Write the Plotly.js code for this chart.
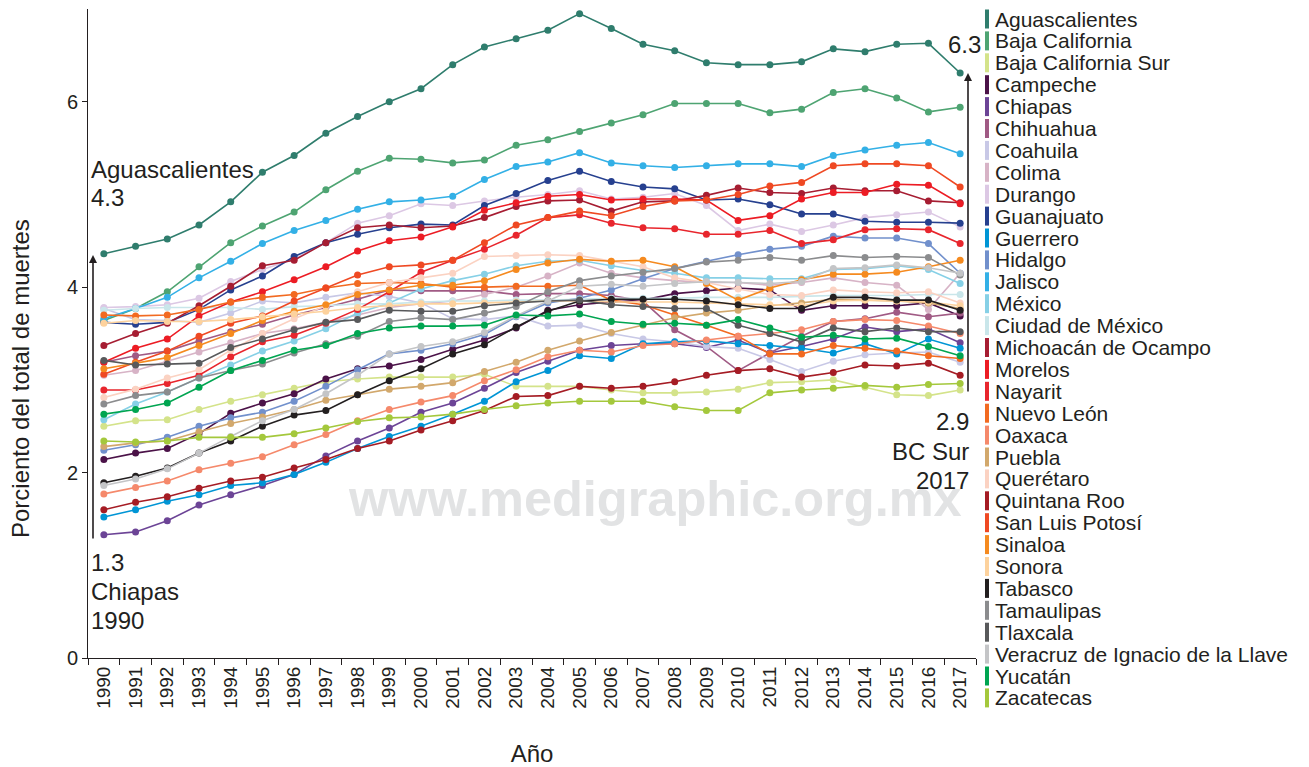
<!DOCTYPE html>
<html>
<head>
<meta charset="utf-8">
<script src="https://cdn.plot.ly/plotly-3.0.1.min.js"></script>
<style>html,body{margin:0;padding:0;background:#fff;}#chart{width:1309px;height:767px;}</style>
</head>
<body>
<div id="chart"></div>
<script>
const years = ["1990","1991","1992","1993","1994","1995","1996","1997","1998","1999","2000","2001","2002","2003","2004","2005","2006","2007","2008","2009","2010","2011","2012","2013","2014","2015","2016","2017"];

const aguascalientes = [4.36,4.44,4.52,4.67,4.92,5.24,5.42,5.66,5.84,6.00,6.14,6.40,6.59,6.68,6.77,6.95,6.79,6.62,6.55,6.42,6.40,6.40,6.43,6.57,6.54,6.62,6.63,6.31];
const bajaCalifornia = [3.64,3.77,3.95,4.22,4.48,4.66,4.81,5.05,5.25,5.39,5.38,5.34,5.37,5.53,5.59,5.68,5.77,5.86,5.98,5.98,5.98,5.88,5.92,6.10,6.14,6.04,5.89,5.94];
const bajaCaliforniaSur = [2.50,2.56,2.57,2.68,2.77,2.84,2.91,2.98,3.01,3.03,3.03,3.03,3.06,2.93,2.93,2.93,2.89,2.86,2.86,2.87,2.90,2.97,2.98,3.00,2.92,2.84,2.83,2.89];
const campeche = [2.14,2.21,2.26,2.42,2.64,2.75,2.85,3.01,3.12,3.15,3.22,3.33,3.43,3.56,3.75,3.81,3.84,3.86,3.93,3.96,3.99,3.97,3.75,3.80,3.80,3.80,3.83,3.69];
const chiapas = [1.33,1.36,1.48,1.65,1.76,1.86,1.98,2.18,2.34,2.48,2.65,2.75,2.91,3.08,3.20,3.32,3.37,3.39,3.39,3.35,3.43,3.29,3.36,3.44,3.57,3.52,3.55,3.40];
const chihuahua = [3.19,3.26,3.31,3.42,3.52,3.60,3.70,3.78,3.87,3.97,3.96,3.96,3.96,3.92,3.93,3.93,3.91,3.85,3.54,3.36,3.10,3.29,3.47,3.63,3.66,3.73,3.68,3.72];
const coahuila = [3.77,3.65,3.64,3.62,3.72,3.85,3.83,3.89,3.94,3.90,3.83,3.66,3.65,3.69,3.58,3.59,3.50,3.44,3.41,3.36,3.34,3.22,3.09,3.20,3.27,3.29,3.30,3.19];
const colima = [3.05,3.10,3.20,3.30,3.40,3.50,3.55,3.62,3.70,3.78,3.82,3.85,3.92,4.00,4.12,4.26,4.15,4.10,4.07,4.05,4.05,4.02,4.05,4.10,4.05,4.02,3.76,4.15];
const durango = [3.78,3.79,3.81,3.88,4.06,4.19,4.30,4.48,4.69,4.77,4.90,4.88,4.93,4.97,5.00,5.04,4.95,4.97,5.01,4.88,4.61,4.68,4.60,4.67,4.75,4.78,4.81,4.65];
const guanajuato = [3.62,3.60,3.62,3.76,3.97,4.12,4.33,4.48,4.57,4.64,4.68,4.67,4.88,5.01,5.15,5.25,5.14,5.08,5.06,4.94,4.95,4.89,4.79,4.79,4.71,4.70,4.70,4.69];
const guerrero = [1.52,1.60,1.69,1.76,1.86,1.89,1.98,2.11,2.26,2.39,2.50,2.63,2.77,2.98,3.10,3.26,3.23,3.39,3.41,3.42,3.39,3.37,3.34,3.29,3.39,3.28,3.44,3.34];
const hidalgo = [2.24,2.30,2.38,2.50,2.59,2.65,2.77,2.93,3.11,3.28,3.32,3.39,3.49,3.68,3.83,3.88,3.97,4.09,4.20,4.28,4.35,4.41,4.44,4.55,4.53,4.53,4.47,4.15];
const jalisco = [3.66,3.77,3.89,4.10,4.28,4.47,4.61,4.72,4.84,4.92,4.94,4.98,5.16,5.30,5.35,5.45,5.34,5.31,5.29,5.31,5.33,5.33,5.30,5.42,5.48,5.53,5.56,5.44];
const mexico = [2.57,2.74,2.87,3.02,3.16,3.31,3.42,3.55,3.72,3.83,3.98,4.07,4.14,4.23,4.28,4.29,4.23,4.18,4.15,4.10,4.10,4.09,4.09,4.19,4.20,4.23,4.19,4.04];
const ciudadDeMexico = [3.75,3.77,3.78,3.78,3.78,3.76,3.79,3.80,3.82,3.82,3.84,3.85,3.85,3.86,3.86,3.87,3.88,3.88,3.88,3.89,3.89,3.89,3.90,3.91,3.91,3.91,3.92,3.92];
const michoacan = [3.37,3.50,3.61,3.80,4.01,4.23,4.29,4.48,4.64,4.67,4.64,4.66,4.75,4.87,4.93,4.94,4.82,4.92,4.93,4.99,5.07,5.02,5.01,5.07,5.04,5.04,4.93,4.91];
const morelos = [3.19,3.34,3.44,3.69,3.84,3.95,4.08,4.22,4.39,4.50,4.54,4.65,4.83,4.91,4.98,5.00,4.94,4.95,4.95,4.94,4.72,4.77,4.95,5.02,5.02,5.11,5.10,4.90];
const nayarit = [2.89,2.89,2.96,3.05,3.25,3.41,3.48,3.61,3.76,3.95,4.16,4.29,4.41,4.56,4.75,4.78,4.69,4.64,4.63,4.57,4.57,4.61,4.47,4.51,4.62,4.63,4.62,4.47];
const nuevoLeon = [3.70,3.69,3.70,3.76,3.84,3.89,3.92,3.99,4.04,4.05,4.04,4.00,4.00,4.01,4.01,4.02,3.86,3.81,3.70,3.59,3.47,3.28,3.28,3.37,3.34,3.31,3.26,3.23];
const oaxaca = [1.77,1.84,1.91,2.03,2.10,2.17,2.30,2.41,2.56,2.68,2.76,2.83,2.99,3.11,3.25,3.32,3.30,3.37,3.39,3.43,3.47,3.50,3.54,3.63,3.65,3.64,3.58,3.50];
const puebla = [2.28,2.32,2.34,2.44,2.53,2.60,2.68,2.78,2.84,2.90,2.93,2.97,3.09,3.19,3.32,3.42,3.51,3.59,3.67,3.72,3.75,3.80,3.83,3.87,3.86,3.85,3.83,3.77];
const queretaro = [2.81,2.90,3.02,3.11,3.32,3.50,3.66,3.80,3.95,4.05,4.10,4.15,4.33,4.34,4.35,4.34,4.28,4.22,4.10,4.05,3.98,3.92,3.91,3.97,3.95,3.94,3.95,3.83];
const quintanaRoo = [1.60,1.68,1.74,1.83,1.91,1.95,2.05,2.14,2.26,2.34,2.46,2.56,2.67,2.82,2.83,2.93,2.91,2.93,2.98,3.05,3.10,3.12,3.03,3.08,3.16,3.15,3.18,3.05];
const sanLuisPotosi = [3.06,3.19,3.31,3.47,3.61,3.69,3.85,3.99,4.13,4.22,4.24,4.29,4.48,4.67,4.75,4.82,4.77,4.87,4.93,4.94,5.00,5.09,5.13,5.31,5.33,5.33,5.31,5.08];
const sinaloa = [3.12,3.18,3.24,3.37,3.50,3.64,3.74,3.81,3.92,3.97,4.02,4.02,4.07,4.19,4.26,4.30,4.28,4.29,4.22,4.04,3.86,3.99,4.08,4.14,4.14,4.16,4.22,4.29];
const sonora = [3.61,3.64,3.63,3.63,3.65,3.68,3.71,3.74,3.78,3.80,3.82,3.82,3.83,3.84,3.85,3.85,3.84,3.84,3.84,3.83,3.82,3.81,3.80,3.85,3.86,3.85,3.84,3.80];
const tabasco = [1.89,1.96,2.05,2.21,2.34,2.50,2.62,2.67,2.84,2.99,3.12,3.28,3.38,3.57,3.74,3.85,3.87,3.87,3.87,3.85,3.81,3.77,3.77,3.89,3.89,3.86,3.86,3.75];
const tamaulipas = [2.74,2.83,2.87,3.02,3.10,3.17,3.29,3.39,3.47,3.63,3.67,3.65,3.72,3.79,3.95,4.07,4.12,4.16,4.20,4.27,4.29,4.32,4.29,4.34,4.32,4.33,4.32,4.13];
const tlaxcala = [3.21,3.16,3.17,3.18,3.35,3.44,3.54,3.62,3.65,3.75,3.74,3.74,3.80,3.83,3.85,3.86,3.81,3.79,3.77,3.77,3.59,3.50,3.41,3.56,3.52,3.56,3.52,3.52];
const veracruz = [1.86,1.93,2.04,2.21,2.39,2.56,2.68,2.85,3.05,3.28,3.36,3.41,3.51,3.69,3.85,4.01,4.03,4.01,4.04,4.06,4.05,4.04,4.06,4.20,4.21,4.24,4.21,4.15];
const yucatan = [2.63,2.68,2.75,2.92,3.10,3.21,3.32,3.37,3.50,3.56,3.58,3.58,3.59,3.70,3.69,3.71,3.63,3.60,3.61,3.59,3.65,3.56,3.46,3.48,3.44,3.45,3.36,3.26];
const zacatecas = [2.34,2.33,2.34,2.38,2.38,2.38,2.42,2.48,2.55,2.59,2.60,2.63,2.68,2.72,2.75,2.77,2.77,2.77,2.71,2.67,2.67,2.86,2.89,2.91,2.94,2.92,2.95,2.96];

const stateNames = ["Aguascalientes","Baja California","Baja California Sur","Campeche","Chiapas","Chihuahua","Coahuila","Colima","Durango","Guanajuato","Guerrero","Hidalgo","Jalisco","México","Ciudad de México","Michoacán de Ocampo","Morelos","Nayarit","Nuevo León","Oaxaca","Puebla","Querétaro","Quintana Roo","San Luis Potosí","Sinaloa","Sonora","Tabasco","Tamaulipas","Tlaxcala","Veracruz de Ignacio de la Llave","Yucatán","Zacatecas"];
const stateValues = [aguascalientes,bajaCalifornia,bajaCaliforniaSur,campeche,chiapas,chihuahua,coahuila,colima,durango,guanajuato,guerrero,hidalgo,jalisco,mexico,ciudadDeMexico,michoacan,morelos,nayarit,nuevoLeon,oaxaca,puebla,queretaro,quintanaRoo,sanLuisPotosi,sinaloa,sonora,tabasco,tamaulipas,tlaxcala,veracruz,yucatan,zacatecas];
const stateColors = ["#2f7d6d","#4ea472","#d4e38a","#4b1248","#6c4496","#a05a84","#c8c8e6","#d7b3c6","#dcc8e4","#26408f","#0095d5","#7190cc","#33b0e6","#86d0e6","#c9e6ea","#a61d32","#ec1c24","#e8262d","#f26a21","#f5896b","#d2a86c","#fbd2c2","#a51c24","#ef4923","#f58a1f","#fdd29d","#231f20","#8b8c8e","#58595b","#c4c5c7","#00a551","#a4c83c"];

const FONT = "Liberation Sans, Arial, Helvetica, sans-serif";
const INK = "#231f20";
const W = 1309, H = 767;
const M = {l: 88, r: 333, t: 9, b: 109};
const PW = W - M.l - M.r, PH = H - M.t - M.b;
const px = x => (x - M.l) / PW;
const py = y => (H - M.b - y) / PH;

const traces = stateNames.map((n, i) => ({
  type: "scatter", mode: "lines+markers", name: n,
  x: years, y: stateValues[i],
  line: {color: stateColors[i], width: 1.6},
  marker: {color: stateColors[i], size: 7},
  showlegend: false
}));

const annotations = [];
const shapes = [];
stateNames.forEach((n, i) => {
  const cy = 19 + i * 21.9;
  annotations.push({xref: "paper", yref: "paper", x: px(993), y: py(cy), xanchor: "left", yanchor: "middle",
    text: n, showarrow: false, font: {family: FONT, size: 21, color: INK}});
  shapes.push({type: "rect", xref: "paper", yref: "paper", x0: px(985), x1: px(989), y0: py(cy - 9.5), y1: py(cy + 9.5),
    fillcolor: stateColors[i], line: {width: 0}});
});

function txt(t, x, y, anchor, size) {
  annotations.push({xref: "paper", yref: "paper", x: px(x), y: py(y), xanchor: anchor, yanchor: "middle",
    text: t, showarrow: false, font: {family: FONT, size: size || 24, color: INK}});
}
txt("Aguascalientes", 89, 170, "left");
txt("4.3", 89, 198, "left");
txt("1.3", 89, 562, "left");
txt("Chiapas", 89, 591, "left");
txt("1990", 89, 620, "left");
txt("6.3", 946, 45, "left");
txt("2.9", 971, 421, "right");
txt("BC Sur", 971, 451, "right");
txt("2017", 971, 480, "right");

// arrows
annotations.push({xref: "paper", yref: "paper", x: px(93), y: py(255), ax: 0, ay: 285, axref: "pixel", ayref: "pixel",
  text: "", showarrow: true, arrowhead: 2, arrowsize: 1, arrowwidth: 1.6, arrowcolor: INK, standoff: 0});
annotations.push({xref: "paper", yref: "paper", x: px(968), y: py(73), ax: 0, ay: 320, axref: "pixel", ayref: "pixel",
  text: "", showarrow: true, arrowhead: 2, arrowsize: 1, arrowwidth: 1.6, arrowcolor: INK, standoff: 0});

// y axis title
annotations.push({xref: "paper", yref: "paper", x: px(20), y: py(379), xanchor: "center", yanchor: "middle",
  text: "Porciento del total de muertes", textangle: -90, showarrow: false, font: {family: FONT, size: 24, color: INK}});

// watermark
annotations.push({xref: "paper", yref: "paper", x: px(655), y: py(498), xanchor: "center", yanchor: "middle",
  text: "<b>www.medigraphic.org.mx</b>", showarrow: false, font: {family: FONT, size: 50.5, color: "#e2e3e4"}});

const layout = {
  width: W, height: H,
  margin: M,
  paper_bgcolor: "#ffffff", plot_bgcolor: "#ffffff",
  showlegend: false,
  font: {family: FONT, color: INK},
  xaxis: {
    type: "category", range: [-0.5, 27.5],
    showline: true, linecolor: INK, linewidth: 1,
    ticks: "outside", ticklen: 6, tickcolor: INK, tickson: "boundaries",
    tickangle: -90, tickfont: {family: FONT, size: 19, color: INK},
    showgrid: false, zeroline: false,
    title: {text: "Año", font: {family: FONT, size: 24, color: INK}, standoff: 39}
  },
  yaxis: {
    range: [0, 7], tickvals: [0, 2, 4, 6], ticktext: ["0", "2", "4", "6"],
    showline: true, linecolor: INK, linewidth: 1,
    ticks: "outside", ticklen: 5, tickcolor: INK,
    tickfont: {family: FONT, size: 20, color: INK},
    showgrid: false, zeroline: false
  },
  annotations: annotations,
  shapes: shapes
};

Plotly.newPlot("chart", traces, layout, {displayModeBar: false, staticPlot: true});
</script>
</body>
</html>
